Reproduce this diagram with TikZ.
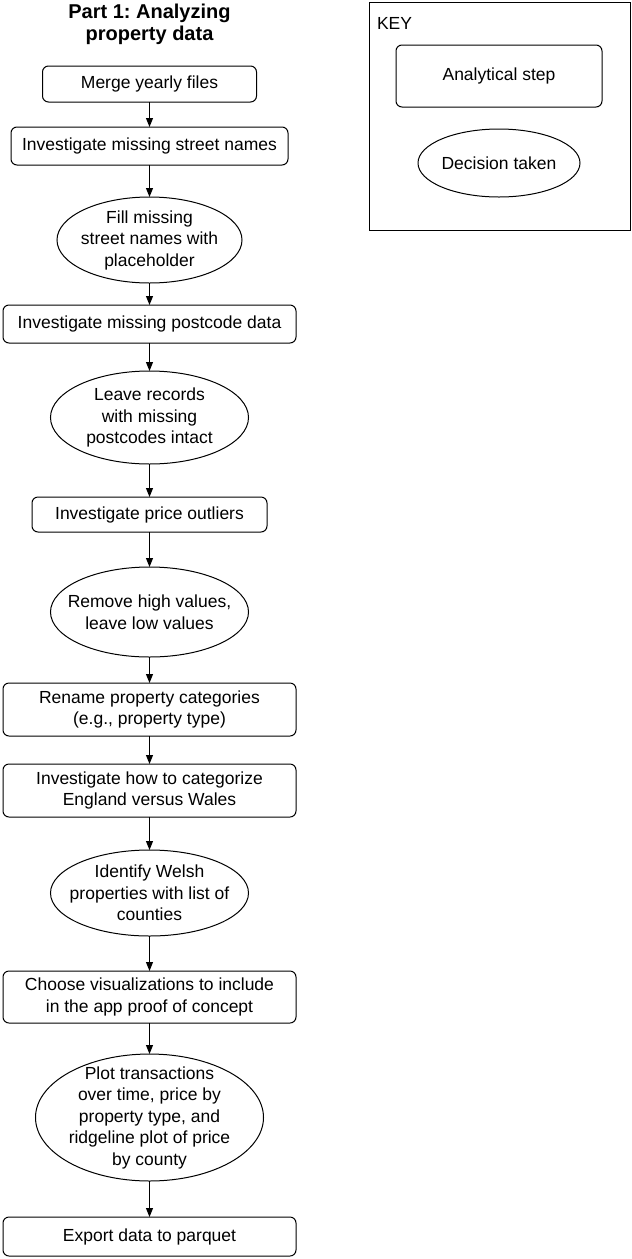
\documentclass[tikz,border=0pt]{standalone}
\usepackage{fontspec}
\setmainfont{Liberation Sans}
\usetikzlibrary{positioning,shapes.geometric,arrows.meta}
\frenchspacing

\begin{document}
\begin{tikzpicture}[x=1pt,y=-1pt,
    font=\fontsize{17.5}{21.5}\selectfont,
    line width=1pt, outer sep=0pt,
    stepbox/.style={draw, rounded corners=6pt, align=center, inner sep=0pt,
      minimum width=293pt, minimum height=38pt},
    decision/.style={draw, ellipse, align=center, inner xsep=-15pt, inner ysep=-10pt,
      minimum width=198pt, minimum height=86pt},
    flow/.style={-{Triangle[length=9pt,width=7pt]}}]

    \useasboundingbox (0,0) rectangle (632,1259);

    % Title
    \node[font=\bfseries\fontsize{20}{22}\selectfont, align=center] (title) at (149.5,24) {Part 1: Analyzing\\property data};

    % Define nodes
    \node[stepbox, minimum width=214pt, minimum height=36pt] (merge) at (149.5,84) {Merge yearly files};
    \node[stepbox, below=25pt of merge, minimum width=277pt] (street) {Investigate missing street names};
    \node[decision, below=32pt of street, minimum width=185pt] (fill) {Fill missing\\street names with\\placeholder};
    \node[stepbox, below=22pt of fill] (postcode) {Investigate missing postcode data};
    \node[decision, below=28pt of postcode, minimum height=93pt] (leave) {Leave records\\with missing\\postcodes intact};
    \node[stepbox, below=33pt of leave, minimum width=235pt, minimum height=35pt] (price) {Investigate price outliers};
    \node[decision, below=35pt of price, minimum height=90pt] (remove) {Remove high values,\\leave low values};
    \node[stepbox, below=26pt of remove, minimum height=53pt] (rename) {Rename property categories\\(e.g., property type)};
    \node[stepbox, below=28pt of rename, minimum height=53pt] (country) {Investigate how to categorize\\England versus Wales};
    \node[decision, below=33pt of country, minimum height=86pt] (welsh) {Identify Welsh\\properties with list of\\counties};
    \node[stepbox, below=35pt of welsh, minimum height=52pt] (choose) {Choose visualizations to include\\in the app proof of concept};
    \node[decision, below=31pt of choose, minimum width=228pt, minimum height=127pt] (plot) {Plot transactions\\over time, price by\\property type, and\\ridgeline plot of price\\by county};
    \node[stepbox, below=36pt of plot, minimum height=39pt] (export) {Export data to parquet};

    % Connect the nodes
    \foreach \a/\b in {merge/street, street/fill, fill/postcode, postcode/leave, leave/price,
        price/remove, remove/rename, rename/country, country/welsh, welsh/choose,
        choose/plot, plot/export}
      \draw[flow] (\a) -- (\b);

    % Key
    \node[draw, anchor=north west, minimum width=261pt, minimum height=228pt] (key) at (369,2) {};
    \node[anchor=north west, inner sep=0pt] (key-label) at (377,17) {KEY};
    \node[stepbox, minimum width=206pt, minimum height=62pt] (key-step) at (499,76) {Analytical step};
    \node[decision, minimum width=162pt, minimum height=68pt] (key-decision) at (499,163) {Decision taken};

\end{tikzpicture}
\end{document}
